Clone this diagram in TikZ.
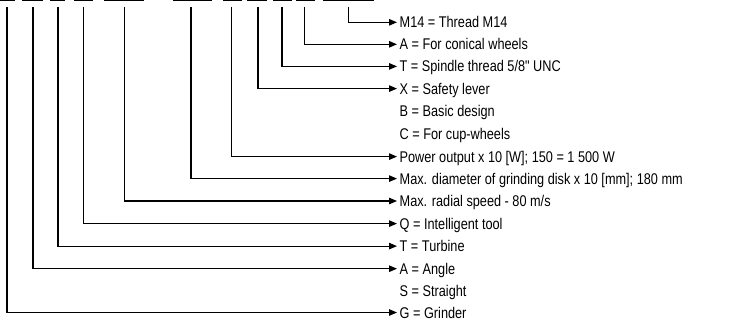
\documentclass[tikz,border=0pt]{standalone}
\usepackage{fontspec}
\setmainfont{Liberation Sans}[Ligatures=TeXOff,FakeStretch=0.82]
\usetikzlibrary{arrows.meta}
\begin{document}
\begin{tikzpicture}[x=1pt,y=-1pt,
  lbl/.style={anchor=west,inner sep=2.5pt,font=\fontsize{15.5}{18}\selectfont,text height=11pt,text depth=0pt},
  conn/.style={line width=1.2pt,-{Triangle[length=8pt,width=6.5pt]}},
  dashbar/.style={line width=1.6pt}]
\useasboundingbox (0,0) rectangle (739,325);
% top dashes
\foreach \a/\b in {0/15,22/43,50/65,74/93,104/144,173/212,223/242,247/267,273/292,296/315,323/374}
  \draw[dashbar] (\a,0.3) -- (\b,0.3);
% labels
\node[lbl] (m14) at (397,22.3) {M14 = Thread M14};
\node[lbl] (ac) at (397,44.3) {A = For conical wheels};
\node[lbl] (ts) at (397,66.4) {T = Spindle thread 5/8" UNC};
\node[lbl] (xs) at (397,88.6) {X = Safety lever};
\node[lbl] (bb) at (397,111) {B = Basic design};
\node[lbl] (cc) at (397,133.5) {C = For cup-wheels};
\node[lbl] (pw) at (397,156.6) {Power output x 10 [W]; 150 = 1 500 W};
\node[lbl] (md) at (397,178.6) {Max. diameter of grinding disk x 10 [mm]; 180 mm};
\node[lbl] (mr) at (397,201) {Max. radial speed - 80 m/s};
\node[lbl] (qi) at (397,223.6) {Q = Intelligent tool};
\node[lbl] (tt) at (397,246.1) {T = Turbine};
\node[lbl] (aa) at (397,268.7) {A = Angle};
\node[lbl] (ss) at (397,291) {S = Straight};
\node[lbl] (gg) at (397,312.5) {G = Grinder};
% line tops
\coordinate (c1) at (7,7);
\coordinate (c2) at (33,7);
\coordinate (c3) at (58,7);
\coordinate (c4) at (83.5,7);
\coordinate (c5) at (124.5,7);
\coordinate (c6) at (191,7);
\coordinate (c7) at (231.5,7);
\coordinate (c8) at (258,7);
\coordinate (c9) at (282,7);
\coordinate (c10) at (304.5,7);
\coordinate (c11) at (348.5,7);
\draw[conn] (c1) |- (gg.west);
\draw[conn] (c2) |- (aa.west);
\draw[conn] (c3) |- (tt.west);
\draw[conn] (c4) |- (qi.west);
\draw[conn] (c5) |- (mr.west);
\draw[conn] (c6) |- (md.west);
\draw[conn] (c7) |- (pw.west);
\draw[conn] (c8) |- (xs.west);
\draw[conn] (c9) |- (ts.west);
\draw[conn] (c10) |- (ac.west);
\draw[conn] (c11) |- (m14.west);
\end{tikzpicture}
\end{document}
